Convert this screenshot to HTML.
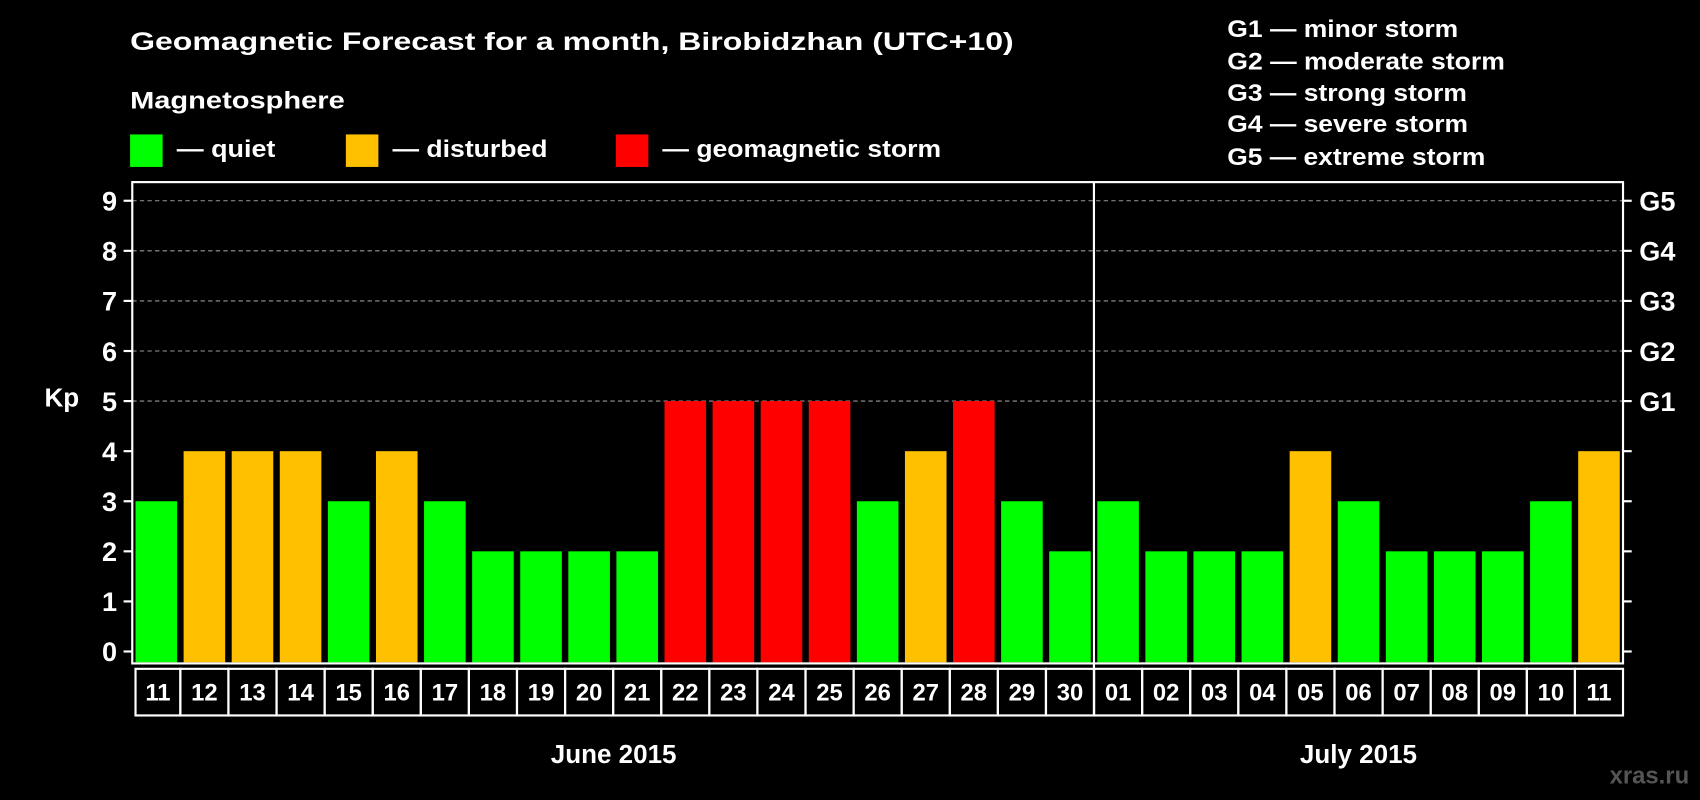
<!DOCTYPE html>
<html><head><meta charset="utf-8"><style>
html,body{margin:0;padding:0;background:#000;}
svg{display:block;font-family:"Liberation Sans",sans-serif;font-weight:bold;}
</style></head><body>
<svg id="chart" width="1700" height="800" viewBox="0 0 1568 738" preserveAspectRatio="none">
<rect x="0" y="0" width="1568" height="738" fill="#000"/>
<text x="120" y="46" font-size="23" fill="#fff" textLength="815" lengthAdjust="spacingAndGlyphs">Geomagnetic Forecast for a month, Birobidzhan (UTC+10)</text>
<text x="120" y="100" font-size="22" fill="#fff" textLength="198" lengthAdjust="spacingAndGlyphs">Magnetosphere</text>
<g>
<rect x="120" y="124" width="30" height="30" fill="#00ff00"/>
<text x="163" y="145" font-size="22" fill="#fff" textLength="91" lengthAdjust="spacingAndGlyphs">— quiet</text></g>
<g>
<rect x="319" y="124" width="30" height="30" fill="#ffc000"/>
<text x="362" y="145" font-size="22" fill="#fff" textLength="143" lengthAdjust="spacingAndGlyphs">— disturbed</text></g>
<g>
<rect x="568" y="124" width="30" height="30" fill="#ff0000"/>
<text x="611" y="145" font-size="22" fill="#fff" textLength="257" lengthAdjust="spacingAndGlyphs">— geomagnetic storm</text></g>
<g font-size="22" fill="#fff">
<text x="1132" y="34" textLength="213" lengthAdjust="spacingAndGlyphs">G1 — minor storm</text>
<text x="1132" y="64" textLength="256" lengthAdjust="spacingAndGlyphs">G2 — moderate storm</text>
<text x="1132" y="93" textLength="221" lengthAdjust="spacingAndGlyphs">G3 — strong storm</text>
<text x="1132" y="122" textLength="222" lengthAdjust="spacingAndGlyphs">G4 — severe storm</text>
<text x="1132" y="152" textLength="238" lengthAdjust="spacingAndGlyphs">G5 — extreme storm</text>
</g>
<g id="plot"></g>
<text x="57" y="375" font-size="24" fill="#fff" text-anchor="middle">Kp</text>
<text x="566" y="704" font-size="24" fill="#fff" text-anchor="middle">June 2015</text>
<text x="1253" y="704" font-size="24" fill="#fff" text-anchor="middle">July 2015</text>
<text x="1558" y="723" font-size="22" fill="#555" text-anchor="end">xras.ru</text>
</svg>
<script>
const juneDays = ["11","12","13","14","15","16","17","18","19","20","21","22","23","24","25","26","27","28","29","30"];
const juneKp = [3,4,4,4,3,4,3,2,2,2,2,5,5,5,5,3,4,5,3,2];
const julyDays = ["01","02","03","04","05","06","07","08","09","10","11"];
const julyKp = [3,2,2,2,4,3,2,2,2,3,4];
const yTicks = [0,1,2,3,4,5,6,7,8,9];
const gLabels = ["G1","G2","G3","G4","G5"];

const NS = "http://www.w3.org/2000/svg";
const plot = document.getElementById("plot");
const L = 122, R = 1497, T = 168, B = 612, MID = 1009;
const y0 = 601, unit = 46.2;
const yScale = v => y0 - v * unit;
function mk(tag, attrs) {
  const e = document.createElementNS(NS, tag);
  for (const k in attrs) e.setAttribute(k, attrs[k]);
  plot.appendChild(e);
  return e;
}
function color(v) { return v >= 5 ? "#ff0000" : v === 4 ? "#ffc000" : "#00ff00"; }

yTicks.forEach(t => {
  if (t >= 5) {
    const g = mk("line", {x1: L, x2: R, y1: yScale(t), y2: yScale(t), stroke: "#999", "stroke-width": 1, "stroke-dasharray": "4,3"});
    
    
  }
  const tk = mk("line", {x1: L - 8, x2: L, y1: yScale(t), y2: yScale(t), stroke: "#fff", "stroke-width": 2});
  
  
  const tr = mk("line", {x1: R, x2: R + 8, y1: yScale(t), y2: yScale(t), stroke: "#fff", "stroke-width": 2});
  
  
  const lb = mk("text", {x: 108, y: yScale(t) + 9, "font-size": 25, fill: "#fff", "text-anchor": "end"});
  lb.textContent = t;
  
  
});
gLabels.forEach((g, i) => {
  const lb = mk("text", {x: 1512, y: yScale(5 + i) + 9, "font-size": 25, fill: "#fff"});
  lb.textContent = g;
  
  
});

const allDays = juneDays.concat(julyDays);
const allKp = juneKp.concat(julyKp);
const step = (R - L) / allDays.length;
allDays.forEach((d, i) => {
  const month = i < juneDays.length ? "june" : "july";
  const bx = L + i * step;
  const v = allKp[i];
  const bar = mk("rect", {x: bx + 3, y: yScale(v), width: step - 6, height: B - 1 - yScale(v), fill: color(v)});
  
  
  const off = i === 0 ? 3 : 0;
  const box = mk("rect", {x: bx + off, y: 617, width: step - off, height: 43, fill: "none", stroke: "#fff", "stroke-width": 2});
  
  
  const t = mk("text", {x: bx + step / 2 + off / 2, y: 646, "font-size": 22, fill: "#fff", "text-anchor": "middle"});
  t.textContent = d;
  
  
});

const frame = mk("rect", {x: L, y: T, width: R - L, height: B - T, fill: "none", stroke: "#fff", "stroke-width": 2});


const div = mk("line", {x1: MID, x2: MID, y1: T, y2: 660, stroke: "#fff", "stroke-width": 2});


</script>
</body></html>
